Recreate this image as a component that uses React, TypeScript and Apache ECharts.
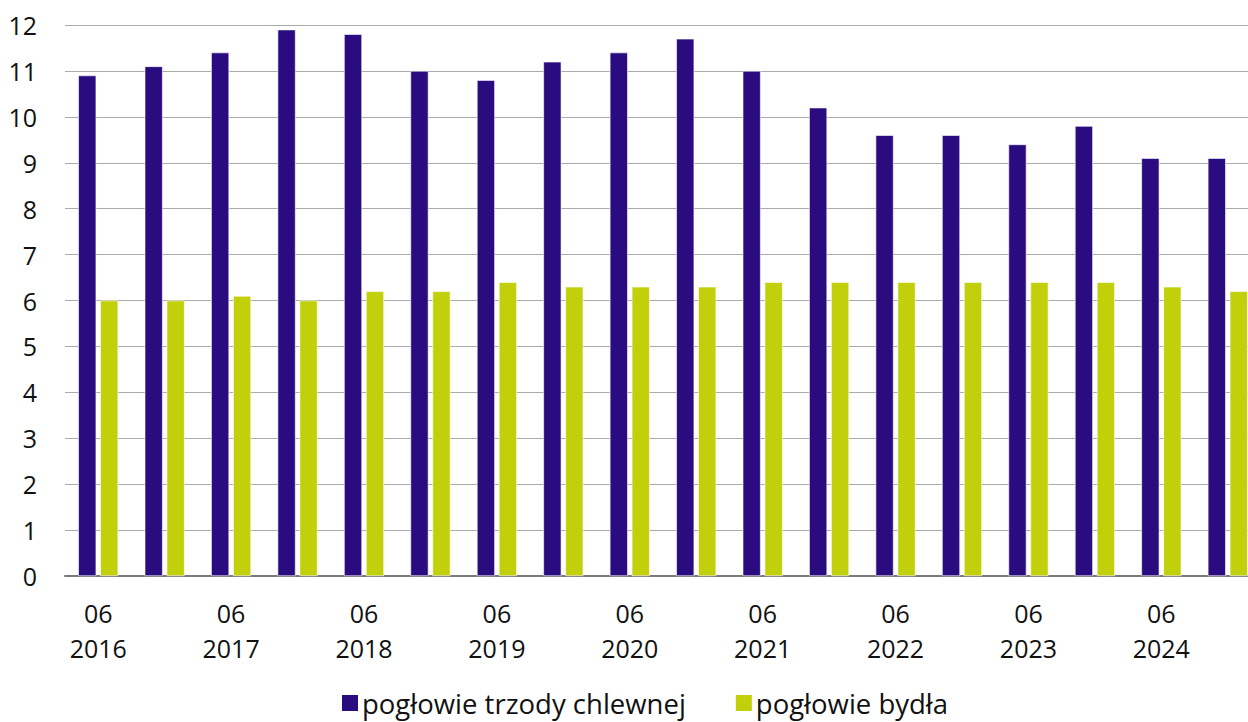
import React, { useEffect, useRef } from "react";
import * as echarts from "echarts";

const categories = [
  "06\n2016", "12\n2016", "06\n2017", "12\n2017", "06\n2018", "12\n2018",
  "06\n2019", "12\n2019", "06\n2020", "12\n2020", "06\n2021", "12\n2021",
  "06\n2022", "12\n2022", "06\n2023", "12\n2023", "06\n2024", "12\n2024",
];
const pigs = [10.9, 11.1, 11.4, 11.9, 11.8, 11.0, 10.8, 11.2, 11.4, 11.7, 11.0, 10.2, 9.6, 9.6, 9.4, 9.8, 9.1, 9.1];
const cattle = [6.0, 6.0, 6.1, 6.0, 6.2, 6.2, 6.4, 6.3, 6.3, 6.3, 6.4, 6.4, 6.4, 6.4, 6.4, 6.4, 6.3, 6.2];
const seriesNames = ["pogłowie trzody chlewnej", "pogłowie bydła"];

const FONT = "'Open Sans', 'Noto Sans', sans-serif";
const CHART_W = 1261;

export default function App() {
  const ref = useRef<HTMLDivElement>(null);
  useEffect(() => {
    if (!ref.current) return;
    const chart = echarts.init(ref.current, null, { renderer: "svg" });
    chart.setOption({
      animation: false,
      color: ["#2a0c80", "#c2d00c"],
      textStyle: { fontFamily: FONT },
      grid: { left: 65, right: 0, top: 25, bottom: 146, containLabel: false },
      legend: {
        bottom: 0,
        left: 335,
        itemWidth: 18,
        itemHeight: 18,
        itemGap: 48,
        icon: "rect",
        textStyle: { fontSize: 27.5, color: "#111", fontFamily: FONT, padding: [0, 0, 0, -2] },
        data: seriesNames,
      },
      xAxis: {
        type: "category",
        data: categories,
        axisTick: { show: false },
        axisLine: { lineStyle: { color: "#7a7a7a", width: 2 } },
        axisLabel: {
          interval: 1,
          fontSize: 25,
          color: "#111",
          lineHeight: 35,
          margin: 19,
          fontFamily: FONT,
        },
      },
      yAxis: {
        type: "value",
        min: 0,
        max: 12,
        interval: 1,
        axisLine: { show: false },
        axisTick: { show: false },
        splitLine: { lineStyle: { color: "#ababab", width: 1.2 } },
        axisLabel: { fontSize: 25, color: "#111", margin: 28, fontFamily: FONT },
      },
      series: [
        {
          name: seriesNames[0],
          type: "bar",
          data: pigs,
          barWidth: 18,
          barGap: "22%",
          itemStyle: { borderColor: "#ffffff", borderWidth: 0.6 },
        },
        {
          name: seriesNames[1],
          type: "bar",
          data: cattle,
          barWidth: 18,
          barGap: "22%",
          itemStyle: { borderColor: "#ffffff", borderWidth: 0.6 },
        },
      ],
    });
    return () => chart.dispose();
  }, []);
  return (
    <div
      style={{ position: "fixed", left: 0, top: 0, width: 1248, height: 722, overflow: "hidden", background: "#fff" }}
    >
      <div ref={ref} style={{ width: CHART_W, height: 722 }} />
    </div>
  );
}
